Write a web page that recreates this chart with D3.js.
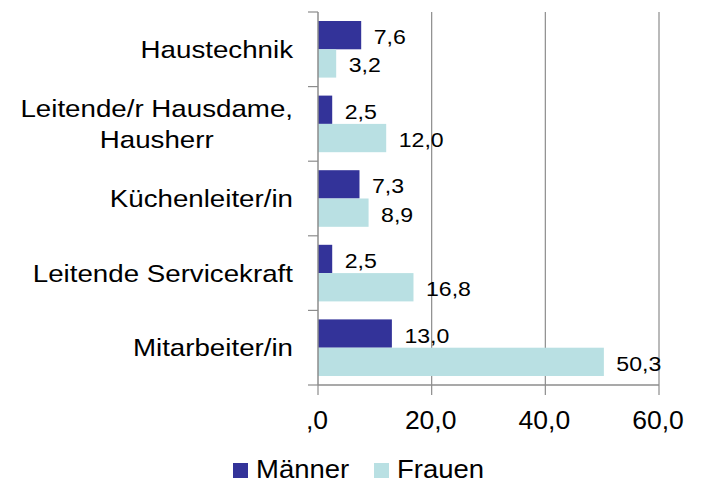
<!DOCTYPE html>
<html>
<head>
<meta charset="utf-8">
<script src="https://cdn.jsdelivr.net/npm/d3@7"></script>
<style>
  body { margin: 0; background: #fff; }
  text { font-family: "Liberation Sans", Arial, sans-serif; fill: #000; }
</style>
</head>
<body>
<script>
const categories = [["Haustechnik"], ["Leitende/r Hausdame,", "Hausherr"], ["Küchenleiter/in"], ["Leitende Servicekraft"], ["Mitarbeiter/in"]];
const seriesNames = ["Männer", "Frauen"];
const maenner = [7.6, 2.5, 7.3, 2.5, 13.0];
const frauen = [3.2, 12.0, 8.9, 16.8, 50.3];
const xTicks = [0, 20, 40, 60];
const xTickLabels = [",0", "20,0", "40,0", "60,0"];
const colors = ["#333399", "#b9e0e3"];

const width = 703, height = 479;
const svg = d3.select("body").append("svg").attr("width", width).attr("height", height);

const x = d3.scaleLinear().domain([0, 60]).range([318, 659]);
const y0 = d3.scaleBand().domain(d3.range(categories.length)).range([12, 385]).padding(0);
const y1 = d3.scaleBand().domain(seriesNames).range([9, y0.bandwidth() - 9]);

const fmt = v => d3.format(".1f")(v).replace(".", ",");

// gridlines
svg.append("g").selectAll("line").data(xTicks.slice(1)).join("line")
  .attr("x1", d => x(d)).attr("x2", d => x(d))
  .attr("y1", 12).attr("y2", 385)
  .attr("stroke", "#8c8c8c").attr("stroke-width", 1.2);

// bars
const series = [maenner, frauen];
const gBars = svg.append("g");
series.forEach((vals, si) => {
  gBars.selectAll(null).data(vals).join("rect")
    .attr("x", x(0))
    .attr("y", (d, i) => y0(i) + y1(seriesNames[si]))
    .attr("width", d => x(d) - x(0))
    .attr("height", y1.bandwidth())
    .attr("fill", colors[si]);
});

// value labels
function stext(g, str, tx, ty, size, sx, anchor) {
  return g.append("text")
    .attr("transform", `translate(${tx},${ty}) scale(${sx},1)`)
    .attr("font-size", size)
    .attr("text-anchor", anchor)
    .text(str);
}
const gVal = svg.append("g");
series.forEach((vals, si) => {
  vals.forEach((v, i) => {
    const cy = y0(i) + y1(seriesNames[si]) + y1.bandwidth() / 2;
    stext(gVal, fmt(v), x(v) + 12.5, cy + 9, 21, 1.1, "start");
  });
});

// axes
const axisColor = "#8c8c8c";
svg.append("line").attr("x1", x(0)).attr("x2", x(0)).attr("y1", 12).attr("y2", 385)
  .attr("stroke", axisColor).attr("stroke-width", 1.5);
svg.append("line").attr("x1", x(0)).attr("x2", x(60)).attr("y1", 385).attr("y2", 385)
  .attr("stroke", axisColor).attr("stroke-width", 1.5);
const yTicks = d3.range(categories.length).map(i => y0(i)).concat([385]);
svg.append("g").selectAll("line").data(yTicks).join("line")
  .attr("x1", x(0) - 10).attr("x2", x(0)).attr("y1", d => d).attr("y2", d => d)
  .attr("stroke", axisColor).attr("stroke-width", 1.2);
svg.append("g").selectAll("line").data(xTicks).join("line")
  .attr("x1", d => x(d)).attr("x2", d => x(d)).attr("y1", 385).attr("y2", 395)
  .attr("stroke", axisColor).attr("stroke-width", 1.2);

const gXL = svg.append("g");
xTicks.forEach((t, i) => stext(gXL, xTickLabels[i], x(t) - 1, 429, 26.5, 1, "middle"));

// category labels
const gCat = svg.append("g");
categories.forEach((lines, i) => {
  const cy = y0(i) + y0.bandwidth() / 2;
  const lh = 31;
  const top = cy - (lines.length - 1) * lh / 2;
  const els = lines.map((s, k) => stext(gCat, s, 0, 0, 24, 1.155, "middle"));
  const w = d3.max(els, e => e.node().getComputedTextLength()) * 1.155;
  const cx = 293 - w / 2;
  els.forEach((e, k) => e.attr("transform", `translate(${cx},${top + k * lh + 8.5}) scale(1.155,1)`));
});

// legend
const gLeg = svg.append("g");
const legX = [233, 374];
seriesNames.forEach((n, i) => {
  gLeg.append("rect").attr("x", legX[i]).attr("y", 463).attr("width", 15).attr("height", 15).attr("fill", colors[i]);
  stext(gLeg, n, legX[i] + 23, 477.5, 25, 1.1, "start");
});
</script>
</body>
</html>
